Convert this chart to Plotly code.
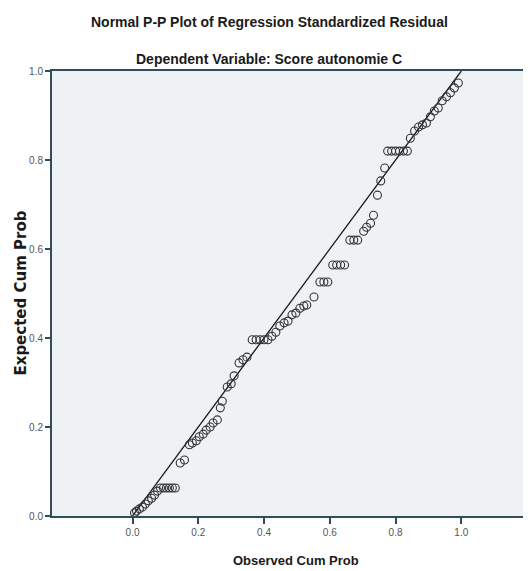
import plotly.graph_objects as go

# Observed cumulative probability (x) and expected cumulative probability (y)
observed_cum_prob = [
    0.006, 0.012, 0.021, 0.030, 0.039, 0.048, 0.058, 0.067, 0.076,
    0.085, 0.094, 0.103, 0.112, 0.121, 0.130,
    0.145, 0.158,
    0.173, 0.182, 0.194, 0.203, 0.215, 0.224, 0.236, 0.245, 0.258,
    0.267, 0.273,
    0.288, 0.300, 0.309, 0.324, 0.336, 0.348,
    0.364, 0.376, 0.388, 0.400, 0.412,
    0.424, 0.436, 0.448, 0.461, 0.473, 0.485, 0.497, 0.509, 0.521, 0.530,
    0.552,
    0.570, 0.582, 0.594,
    0.609, 0.621, 0.633, 0.645,
    0.661, 0.673, 0.685,
    0.703, 0.712, 0.724, 0.733, 0.745, 0.755, 0.767,
    0.776, 0.788, 0.800, 0.812, 0.824, 0.836,
    0.845, 0.858, 0.870, 0.882, 0.894, 0.906, 0.918, 0.930, 0.942, 0.955,
    0.967, 0.979, 0.991,
]
expected_cum_prob = [
    0.007, 0.011, 0.016, 0.020, 0.027, 0.034, 0.040, 0.047, 0.056,
    0.063, 0.063, 0.063, 0.063, 0.063, 0.063,
    0.119, 0.126,
    0.160, 0.164, 0.169, 0.178, 0.184, 0.193, 0.200, 0.209, 0.216,
    0.243, 0.258,
    0.290, 0.297, 0.315, 0.344, 0.351, 0.357,
    0.396, 0.396, 0.396, 0.396, 0.396,
    0.404, 0.413, 0.427, 0.434, 0.438, 0.452, 0.456, 0.467, 0.472, 0.474,
    0.492,
    0.526, 0.526, 0.526,
    0.564, 0.564, 0.564, 0.564,
    0.620, 0.620, 0.620,
    0.640, 0.649, 0.658, 0.676, 0.721, 0.753, 0.782,
    0.820, 0.820, 0.820, 0.820, 0.820, 0.820,
    0.849, 0.865, 0.874, 0.879, 0.883, 0.897, 0.910, 0.917, 0.933, 0.942,
    0.951, 0.962, 0.973,
]
reference_line = [0.0, 1.0]
tick_values = [0.0, 0.2, 0.4, 0.6, 0.8, 1.0]
tick_labels = ["0.0", "0.2", "0.4", "0.6", "0.8", "1.0"]

SANS = "Liberation Sans, Arial, sans-serif"
WIDE = "DejaVu Sans, Liberation Sans, sans-serif"
AXIS_COLOR = "#2f4d5c"
TEXT_COLOR = "#1a1a1a"

fig = go.Figure()
fig.add_trace(go.Scatter(
    x=reference_line, y=reference_line, mode="lines",
    line=dict(color="#1a1a1a", width=1.3), showlegend=False, hoverinfo="skip"))
fig.add_trace(go.Scatter(
    x=observed_cum_prob, y=expected_cum_prob, mode="markers",
    marker=dict(symbol="circle-open", size=8, color="#333333", line=dict(width=1.1)),
    showlegend=False))

axis_common = dict(
    tickvals=tick_values, ticktext=tick_labels,
    showgrid=False, zeroline=False, showline=True, linecolor=AXIS_COLOR,
    linewidth=2, mirror=True, ticks="outside", tickwidth=1.5,
    tickcolor=AXIS_COLOR, tickfont=dict(family=SANS, size=10, color="#555555"),
)

# The page body adds an 8px margin; the figure is sized to fit the 531x571 window.
fig.update_layout(
    width=523, height=563,
    margin=dict(l=44, r=0, t=63, b=55),
    paper_bgcolor="white",
    plot_bgcolor="#eff2f4",
    font=dict(family=SANS, color="#444444", size=10),
    xaxis=dict(range=[-0.245, 1.206], ticklen=6, **axis_common),
    yaxis=dict(range=[0, 1], ticklen=5, **axis_common),
    annotations=[
        dict(text="<b>Normal P-P Plot of Regression Standardized Residual</b>",
             xref="paper", yref="paper", x=0.455, y=1.111, showarrow=False,
             xanchor="center", yanchor="middle",
             font=dict(family=SANS, size=14, color=TEXT_COLOR)),
        dict(text="<b>Dependent Variable: Score autonomie C</b>",
             xref="paper", yref="paper", x=0.455, y=1.027, showarrow=False,
             xanchor="center", yanchor="middle",
             font=dict(family=SANS, size=14, color=TEXT_COLOR)),
        dict(text="<b>Observed Cum Prob</b>",
             xref="paper", yref="paper", x=0.511, y=-0.101, showarrow=False,
             xanchor="center", yanchor="middle",
             font=dict(family=SANS, size=13, color=TEXT_COLOR)),
        dict(text="<b>Expected Cum Prob</b>",
             xref="paper", yref="paper", x=-0.067, y=0.5, showarrow=False,
             xanchor="center", yanchor="middle", textangle=-90,
             font=dict(family=WIDE, size=15, color=TEXT_COLOR)),
    ],
)

fig.write_html("out.html")
